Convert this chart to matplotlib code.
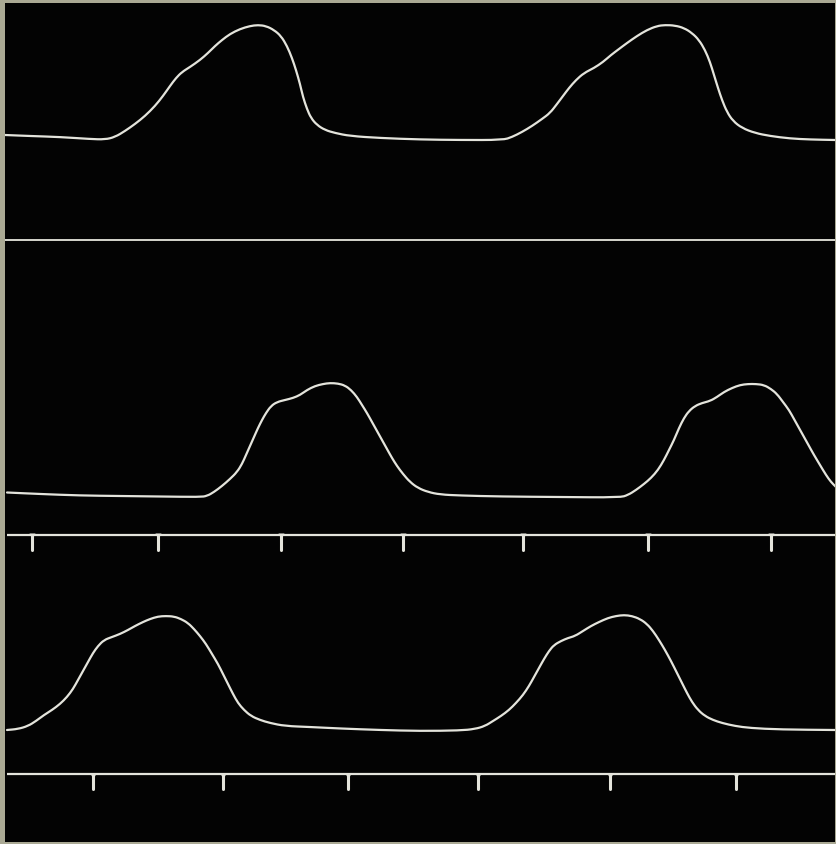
import numpy as np
import matplotlib
matplotlib.use("Agg")
import matplotlib.pyplot as plt
from matplotlib.path import Path
from matplotlib.patches import PathPatch

# --- Recorded traces: time (horizontal units) and deflection above each channel's rest level ---
t1 = [5, 30, 60, 90, 105, 115, 125, 135, 145, 155, 163, 170, 176, 182, 190, 200, 208, 215,
      222, 230, 240, 250, 258, 266, 274, 281, 287, 292, 296, 300, 303, 307, 311, 317, 325,
      335, 350, 380, 420, 460, 503, 512, 522, 532, 542, 550, 557, 563, 569, 576, 584, 594,
      603, 611, 619, 627, 637, 647, 657, 665, 675, 684, 692, 699, 705, 710, 714, 718, 722,
      727, 733, 742, 755, 770, 790, 810, 835]
a1 = [5, 4, 3, 1, 0.5, 3, 9, 16, 24, 34, 44, 54, 62, 68, 73, 80, 87, 94, 100, 106, 111, 114,
      115, 114, 110, 104, 94, 82, 70, 56, 43, 31, 22, 15, 10, 7, 4, 2, 0.5, 0, 0, 3, 8, 14, 21,
      27, 36, 44, 52, 60, 67, 72, 78, 85, 91, 97, 104, 110, 114, 115, 114.5, 112, 107, 100, 90,
      78, 65, 52, 40, 28, 19, 12, 7, 4, 1.5, 0.5, 0]

t2 = [7, 40, 80, 120, 160, 200, 207, 214, 222, 230, 237, 242, 246, 250, 254, 258, 262, 266,
      271, 277, 285, 293, 300, 307, 315, 323, 330, 338, 345, 351, 357, 362, 367, 372, 377,
      382, 387, 392, 397, 403, 410, 418, 428, 440, 460, 500, 560, 620, 628, 636, 644, 651,
      658, 664, 669, 674, 679, 684, 689, 695, 702, 710, 717, 724, 732, 740, 748, 756, 764,
      771, 777, 783, 789, 794, 799, 804, 809, 814, 820, 826, 831, 836]
a2 = [4.5, 3, 1.5, 1, 0.5, 0, 1, 5, 11, 18, 25, 33, 42, 51, 60, 69, 77, 84, 91, 95, 97, 99,
      102, 107, 111, 113, 114, 113.5, 111.5, 107, 100, 92, 84, 75, 66, 57, 48, 39, 31, 23, 15,
      9, 5, 2.5, 1.5, 0.5, 0, -0.5, 2, 7, 13, 19, 27, 37, 47, 57, 69, 79, 86, 91, 94, 96, 100,
      105, 109, 112, 113, 113, 112, 108, 103, 95, 87, 78, 69, 60, 51, 42, 32, 22, 15, 10]

t3 = [7, 18, 28, 36, 44, 52, 60, 67, 73, 78, 83, 88, 93, 98, 104, 112, 120, 128, 135, 143,
      150, 158, 166, 174, 181, 188, 194, 200, 206, 212, 218, 223, 228, 233, 238, 244, 251,
      260, 270, 285, 310, 340, 380, 420, 460, 475, 485, 493, 501, 509, 516, 523, 529, 534,
      539, 544, 549, 554, 561, 568, 575, 583, 591, 599, 608, 616, 624, 632, 640, 647, 653,
      659, 665, 671, 677, 682, 687, 692, 698, 705, 713, 722, 735, 750, 780, 835]
a3 = [1, 2, 5, 10, 16, 21, 27, 34, 42, 51, 60, 69, 78, 85, 91, 94, 97, 101, 105, 109, 112,
      114.5, 115, 114.5, 112, 108, 102, 95, 87, 77, 67, 57, 47, 37, 28, 21, 15, 11, 8, 5, 4,
      2.5, 1, 0, 0.5, 2, 5, 10, 15, 21, 28, 36, 45, 54, 63, 72, 80, 86, 90, 93, 95, 100, 105,
      109, 113, 115, 116, 115, 112, 107, 100, 91, 81, 70, 58, 48, 38, 29, 21, 15, 11, 8, 5, 3,
      1.5, 1]

# --- Time-marker signals (tick times) ---
marks_upper = [32, 158, 281, 403, 523, 648, 771]
marks_lower = [93, 223, 348, 478, 610, 736]

# --- Layout (vertical rest level of each channel, downward screen units) ---
rest_levels = [140, 497, 731]
divider_level = 239.5
marker_upper_level = 534.5
marker_lower_level = 774
mark_depth = 15

paper = "#aaa994"
ink = "#e4e4dc"


def smooth_path(x, y):
    """Quadratic-Bezier path using the samples as control points (pen-like stroke)."""
    pts = np.column_stack([x, y])
    mids = (pts[:-1] + pts[1:]) / 2
    verts = [pts[0], mids[0]]
    codes = [Path.MOVETO, Path.LINETO]
    for i in range(1, len(pts) - 1):
        verts += [pts[i], mids[i]]
        codes += [Path.CURVE3, Path.CURVE3]
    verts.append(pts[-1])
    codes.append(Path.LINETO)
    return Path(verts, codes)


fig = plt.figure(figsize=(8.36, 8.44), dpi=100, facecolor=paper)
ax = fig.add_axes([5 / 836, 2 / 844, 830 / 836, 839 / 844])
ax.set_facecolor("#030303")
ax.set_xlim(5, 835)
ax.set_ylim(842, 3)
for side in ax.spines.values():
    side.set_visible(False)
ax.set_xticks([])
ax.set_yticks([])

for t, a, base in zip((t1, t2, t3), (a1, a2, a3), rest_levels):
    y = base - np.asarray(a, dtype=float)
    ax.add_patch(PathPatch(smooth_path(t, y), facecolor="none", edgecolor=ink,
                           lw=1.6, joinstyle="round", capstyle="round"))

# divider between the first and second channel
ax.axhline(divider_level, color="#d6d6ce", lw=1.4)

# time-marker lines with their downward notches
for marks, level in ((marks_upper, marker_upper_level), (marks_lower, marker_lower_level)):
    ax.plot([7, 835], [level, level], color=ink, lw=1.6, solid_capstyle="butt")
    ax.vlines(marks, level, level + mark_depth, color=ink, lw=2.2, capstyle="round")
    ax.plot(marks, [level + 1.5] * len(marks), ls="none", marker="v", ms=4.5,
            color=ink, mec="none")

fig.savefig("out.png", dpi=100, facecolor=paper)
